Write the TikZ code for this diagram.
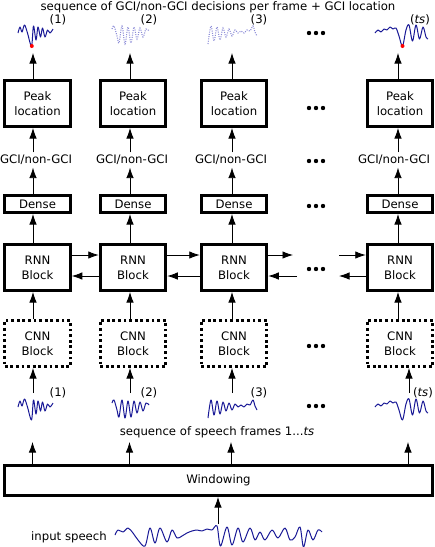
\documentclass[tikz,border=0pt]{standalone}
\usepackage{fontspec}
\setmainfont{DejaVu Sans}
\usetikzlibrary{arrows.meta}
\definecolor{wavecol}{RGB}{25,25,150}
\definecolor{lightwave}{RGB}{140,140,215}
\newcommand\fsz{\fontsize{11.7}{15}\selectfont}
\begin{document}
\begin{tikzpicture}[x=1pt,y=-1pt,
  box/.style={draw, line width=2.9pt, minimum width=65.6pt, minimum height=46.1pt, inner sep=0pt, align=center, font=\fsz},
  dbox/.style={box, minimum height=17.1pt},
  cnnbox/.style={box, dash pattern=on 2.8pt off 2.8pt},
  lbl/.style={font=\fsz, inner sep=2.5pt},
  arr/.style={-{Latex[length=10.5pt,width=7.5pt]}, line width=0.8pt},
  wave/.style={draw=wavecol, line width=1pt, line join=round},
  lwave/.style={draw=lightwave, line width=1.1pt, dash pattern=on 1pt off 1.3pt},
  peakdot/.style={fill=red},
  wone/.pic={\draw plot[smooth, tension=0.55] coordinates {(18,407) (20,401) (22,406) (24.5,399) (27.5,407) (31.5,420) (33.5,400) (36,414) (38,401) (40.5,411) (42.5,402) (45,411) (47.5,404) (50,407) (53,403)};},
  wtwo/.pic={\draw plot[smooth, tension=0.55] coordinates {(112,403) (114,400) (117,410) (119,417) (122,400) (125,418) (128,401) (131,417) (134,401) (137,413) (140,402) (143,411) (146,403) (149,405)};},
  wthree/.pic={\draw plot[smooth, tension=0.55] coordinates {(208,418) (211,400) (214,415) (217,401) (220,414) (223,402) (226,411) (229,403) (232,410) (235,404) (238,407) (241,405) (244,407) (247,404) (250,405) (253,400) (255,406) (257,410)};},
  wts/.pic={\draw plot[smooth, tension=0.55] coordinates {(375,407) (378,404) (381,406) (384,403) (387,404) (390,401) (393,403) (396,402) (399,410) (402.5,420) (406,404) (409,399) (412.5,415) (416,399) (419.5,413) (423,401) (426,411) (428,413)};}
]
\useasboundingbox (0,0) rectangle (435,547);

% title and frame labels
\node[lbl] (title) at (218,7) {sequence of GCI/non-GCI decisions per frame + GCI location};
\node[lbl] (t1) at (58,20) {(1)};
\node[lbl] (t2) at (149,20) {(2)};
\node[lbl] (t3) at (259,20) {(3)};
\node[lbl] (t4) at (420,20) {(\textit{ts})};

% top waveforms
\pic[wave] at (0,-374) {wone};
\pic[lwave] at (0,-374) {wtwo};
\pic[lwave] at (0,-374) {wthree};
\pic[wave] at (0,-374) {wts};
\fill[peakdot] (31.8,46) circle (2pt);
\fill[peakdot] (402.5,46) circle (2pt);

% boxes
\foreach \n/\x in {1/37.5,2/133,3/234,4/400}{
  \node[box] (p\n) at (\x,103.5) {Peak\\location};
  \node[dbox] (d\n) at (\x,204) {Dense};
  \node[box] (r\n) at (\x,267.5) {RNN\\Block};
  \node[cnnbox] (c\n) at (\x,343.5) {CNN\\Block};
}
\node[lbl] (g1) at (36,160) {GCI/non-GCI};
\node[lbl] (g2) at (132,160) {GCI/non-GCI};
\node[lbl] (g3) at (231,160) {GCI/non-GCI};
\node[lbl] (g4) at (394,160) {GCI/non-GCI};

\node[box, minimum width=428.1pt, minimum height=30.1pt] (win) at (218.5,480.5) {Windowing};

% upper arrow positions
\coordinate (u1) at (33,53);
\coordinate (u2) at (130,53);
\coordinate (u3) at (232,53);
\coordinate (u4) at (398,53);
\foreach \n in {1,2,3,4}{
  \draw[arr] (p\n.north -| u\n) -- (u\n);
  \draw[arr] (g\n.north -| u\n) -- (p\n.south -| u\n);
  \draw[arr] (d\n.north -| u\n) -- (g\n.south -| u\n);
  \draw[arr] (r\n.north -| u\n) -- (d\n.south -| u\n);
  \draw[arr] (c\n.north -| u\n) -- (r\n.south -| u\n);
}

% recurrent connections
\coordinate (fa) at (293,255);
\coordinate (fb) at (339,255);
\coordinate (ba) at (297,276);
\coordinate (bb) at (339,276);
\draw[arr] ([yshift=12.5pt]r1.east) -- ([yshift=12.5pt]r2.west);
\draw[arr] ([yshift=-8.5pt]r2.west) -- ([yshift=-8.5pt]r1.east);
\draw[arr] ([yshift=12.5pt]r2.east) -- ([yshift=12.5pt]r3.west);
\draw[arr] ([yshift=-8.5pt]r3.west) -- ([yshift=-8.5pt]r2.east);
\draw[arr] ([yshift=12.5pt]r3.east) -- (fa);
\draw[arr] (ba) -- ([yshift=-8.5pt]r3.east);
\draw[arr] (fb) -- ([yshift=12.5pt]r4.west);
\draw[arr] ([yshift=-8.5pt]r4.west) -- (bb);

% lower waveforms and labels
\pic[wave] at (0,0) {wone};
\pic[wave] at (0,0) {wtwo};
\pic[wave] at (0,0) {wthree};
\pic[wave] at (0,0) {wts};
\node[lbl] (b1) at (58,393) {(1)};
\node[lbl] (b2) at (149,393) {(2)};
\node[lbl] (b3) at (259,393) {(3)};
\node[lbl] (b4) at (423,393) {(\textit{ts})};

\coordinate (f1) at (33,393);
\coordinate (f2) at (130,393);
\coordinate (f3) at (232,393);
\coordinate (f4) at (409,393);
\coordinate (w1) at (32.5,442);
\coordinate (w2) at (129.5,442);
\coordinate (w3) at (231,442);
\coordinate (w4) at (408,442);
\foreach \n in {1,2,3,4}{
  \draw[arr] (f\n) -- (c\n.south -| f\n);
  \draw[arr] (win.north -| w\n) -- (w\n);
}

\node[lbl] (seq) at (217,432) {sequence of speech frames 1...\textit{ts}};

% input speech
\node[lbl] (inp) at (69,537) {input speech};
\draw[wave] plot[smooth, tension=0.55] coordinates {(115,535) (118,530) (123,532) (128,528) (133,533) (138,540) (145,546) (150,528) (155,543) (160,528) (167,542) (172,530) (177,538) (182,536) (187,533) (192,531) (197,530) (202,531) (207,529) (212,530) (217,526) (220.5,546) (227,527) (232,545) (238,528) (243,542) (250,528) (255,540) (260,532) (265,540) (272,530) (278,538) (285,528) (290,540) (295,537) (300,527) (303.5,547) (308,530) (313,540) (318,530) (322,532)};
\coordinate (sp) at (218,524);
\draw[arr] (sp) -- (win.south -| sp);

% ellipsis dots
\foreach \y in {33,108,161,206,269,346,406}{
  \foreach \dx in {-7,0,7}{
    \fill (316+\dx,\y) circle (2.2pt);
  }
}
\end{tikzpicture}
\end{document}
